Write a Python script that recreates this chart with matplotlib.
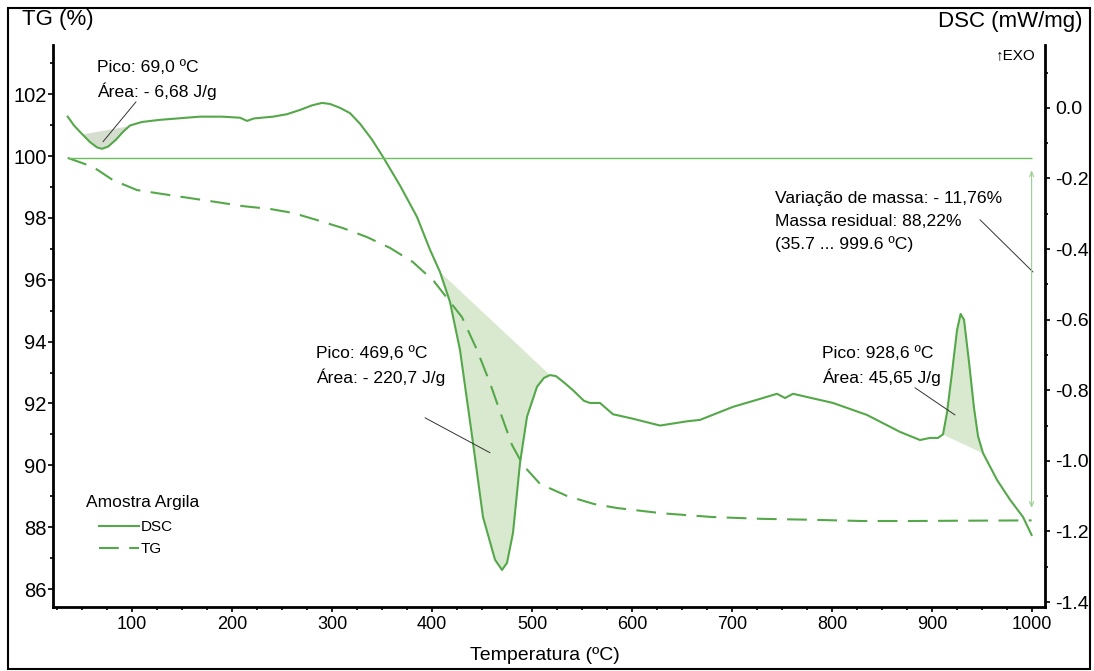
import numpy as np
import matplotlib
matplotlib.use('Agg')
import matplotlib.pyplot as plt
from matplotlib.patches import Rectangle
from matplotlib.ticker import MultipleLocator, FuncFormatter

plt.rcParams['font.family'] = ['Liberation Sans', 'DejaVu Sans']
plt.rcParams['axes.unicode_minus'] = False

# DSC curve (mW/mg), right axis
t_dsc = [35.7, 42, 50, 58, 65, 70, 76, 84, 91, 98, 110, 128, 150, 168, 190, 208, 215, 222,
         241, 255, 268, 280, 290, 298, 308, 318, 328, 340, 351, 368, 385, 398, 408, 418,
         428, 441, 451, 463, 470, 475, 481, 488, 495, 505, 512, 518, 524, 532, 541, 552,
         558, 568, 581, 600, 628, 655, 668, 701, 725, 745, 753, 761, 801, 835, 868, 888,
         898, 906, 911, 915, 920, 925, 928.6, 932, 937, 942, 946, 951, 965, 978, 991, 999.6]
dsc = [-0.025, -0.05, -0.074, -0.097, -0.112, -0.116, -0.110, -0.090, -0.068, -0.050,
       -0.040, -0.034, -0.029, -0.025, -0.025, -0.028, -0.037, -0.030, -0.025, -0.018,
       -0.006, 0.007, 0.014, 0.011, 0.0, -0.015, -0.045, -0.090, -0.139, -0.22, -0.309,
       -0.402, -0.465, -0.55, -0.686, -0.949, -1.159, -1.28, -1.309, -1.289, -1.204,
       -1.006, -0.875, -0.790, -0.765, -0.757, -0.760, -0.778, -0.80, -0.83, -0.836,
       -0.836, -0.868, -0.88, -0.90, -0.888, -0.884, -0.847, -0.827, -0.810, -0.822,
       -0.810, -0.836, -0.870, -0.918, -0.941, -0.935, -0.935, -0.925, -0.864, -0.75,
       -0.63, -0.584, -0.60, -0.72, -0.85, -0.93, -0.978, -1.054, -1.110, -1.159, -1.21]

# TG curve (%), left axis
t_tg = [35.7, 61, 81, 105, 131, 158, 185, 211, 238, 261, 285, 311, 335, 358, 381, 402,
        430, 445, 458, 470, 480, 491, 508, 535, 562, 585, 630, 680, 730, 780, 830, 880,
        930, 999.6]
tg = [99.94, 99.65, 99.22, 98.9, 98.77, 98.64, 98.51, 98.38, 98.29, 98.16, 97.93, 97.67,
      97.38, 97.03, 96.57, 95.95, 94.79, 93.73, 92.66, 91.56, 90.66, 90.01, 89.40, 89.01,
      88.75, 88.62, 88.45, 88.33, 88.27, 88.24, 88.20, 88.20, 88.21, 88.22]

# integration limits of the three DSC peaks
peaks = [(50, 98), (408, 518), (911, 951)]
peak_colors = ['#d6ded0', '#d9e9cf', '#d9e9cf']

green = '#55a84a'
W, H = 1094, 671

t_dsc = np.array(t_dsc)
dsc = np.array(dsc)

fig = plt.figure(figsize=(W / 100, H / 100), dpi=100)
ax = fig.add_axes([53 / W, 1 - 607 / H, 992 / W, 562 / H])
ax2 = ax.twinx()
ax.set_zorder(ax2.get_zorder() + 1)

l_tg, = ax.plot(t_tg, tg, color=green, lw=1.5, dashes=(9.5, 5))
l_dsc, = ax2.plot(t_dsc, dsc, color=green, lw=1.5)

for (t0, t1), c in zip(peaks, peak_colors):
    m = (t_dsc >= t0) & (t_dsc <= t1)
    base = np.interp(t_dsc[m], [t0, t1], [np.interp(t0, t_dsc, dsc), np.interp(t1, t_dsc, dsc)])
    ax2.fill_between(t_dsc[m], dsc[m], base, color=c, lw=0, zorder=1)

# mass change reference line and arrow
ax.hlines(tg[0], t_tg[0], t_tg[-1], color='#6cbf5f', lw=1)
ax.annotate('', xy=(t_tg[-1], tg[-1]), xytext=(t_tg[-1], tg[0]),
            arrowprops=dict(arrowstyle='<->,head_length=0.35,head_width=0.15',
                            color='#9ccf92', lw=0.8, shrinkA=9, shrinkB=9))

ax.set_xlim(21, 1013)
ax.set_ylim(85.42, 103.59)
ax2.set_ylim(-1.414, 0.178)

ax.set_xticks(range(100, 1001, 100))
ax.xaxis.set_minor_locator(MultipleLocator(25))
ax.set_yticks(range(86, 103, 2))
ax.yaxis.set_minor_locator(MultipleLocator(1))
ax2.set_yticks(np.round(np.arange(-1.4, 0.01, 0.2), 1))
ax2.yaxis.set_minor_locator(MultipleLocator(0.1))
ax2.yaxis.set_major_formatter(FuncFormatter(lambda v, p: '%.1f' % (round(v, 1) + 0.0)))

for a in (ax, ax2):
    a.spines['top'].set_visible(False)
    a.patch.set_visible(False)
ax.spines['right'].set_visible(False)
ax2.spines['left'].set_visible(False)
ax2.spines['bottom'].set_visible(False)
for s in ('left', 'bottom'):
    ax.spines[s].set_linewidth(2)
ax2.spines['right'].set_linewidth(2)

ax.tick_params(axis='x', which='major', direction='out', length=3.5, width=1.2, labelsize=13, pad=3)
ax.tick_params(axis='x', which='minor', direction='out', length=2.5, width=1.2)
ax.tick_params(axis='y', which='major', direction='out', length=3.5, width=1.2, labelsize=14.5, pad=1)
ax.tick_params(axis='y', which='minor', direction='out', length=2.5, width=1.2)
ax2.tick_params(axis='y', which='major', direction='out', length=3.5, width=1.2, labelsize=14, pad=4)
ax2.tick_params(axis='y', which='minor', direction='out', length=2.5, width=1.2)

# leader lines
leaders = [((104, 0.017), (71, -0.096)),
           ((393, -0.878), (458, -0.977)),
           ((883, -0.793), (923, -0.870)),
           ((948, -0.317), (1001, -0.465))]
for p0, p1 in leaders:
    ax2.annotate('', xy=p1, xytext=p0,
                 arrowprops=dict(arrowstyle='-', color='#333333', lw=0.7, shrinkA=0, shrinkB=0))


def ftext(x, y, s, **kw):
    fig.text(x / W, 1 - y / H, s, va='center', **kw)


fs = 12.6
ftext(97, 68, 'Pico: 69,0 ºC', fontsize=fs)
ftext(97, 91, 'Área: - 6,68 J/g', fontsize=fs)
ftext(316, 354, 'Pico: 469,6 ºC', fontsize=fs)
ftext(316, 377, 'Área: - 220,7 J/g', fontsize=fs)
ftext(822, 354, 'Pico: 928,6 ºC', fontsize=fs)
ftext(822, 377, 'Área: 45,65 J/g', fontsize=fs)
ftext(775, 198, 'Variação de massa: - 11,76%', fontsize=fs)
ftext(775, 221, 'Massa residual: 88,22%', fontsize=fs)
ftext(775, 244, '(35.7 ... 999.6 ºC)', fontsize=fs)
ftext(22, 20, 'TG (%)', fontsize=16)
ftext(1083, 22, 'DSC (mW/mg)', fontsize=16, ha='right')
ftext(1036, 55, '↑EXO', fontsize=11, ha='right')
ftext(545, 655, 'Temperatura (ºC)', fontsize=14, ha='center')
ftext(86, 502, 'Amostra Argila', fontsize=12.5)

ax.legend([l_dsc, l_tg], ['DSC', 'TG'], loc='upper left',
          bbox_to_anchor=(99 / W, 1 - 520 / H), bbox_transform=fig.transFigure,
          frameon=False, fontsize=11, handlelength=2.6, handletextpad=0.15,
          labelspacing=0.55, borderpad=0, borderaxespad=0)

fig.patches.append(Rectangle((8 / W, 1 - 669 / H), 1082 / W, 661 / H, transform=fig.transFigure,
                             fill=False, ec='black', lw=1.5))

fig.savefig('out.png', dpi=100)
